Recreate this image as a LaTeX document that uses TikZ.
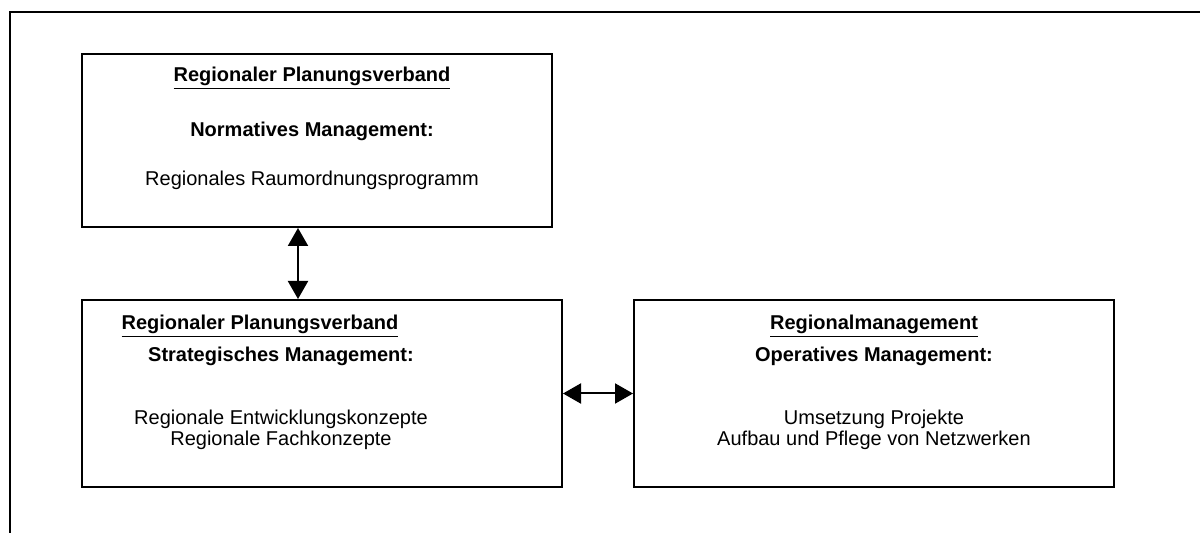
\documentclass[tikz,border=0pt]{standalone}
\usepackage{fontspec}
\setmainfont{Liberation Sans}
\usepackage{tikz}
\usetikzlibrary{
  positioning,
  calc,
  arrows.meta,
  }

\begin{document}
\begin{tikzpicture}[x=0.5pt, y=-0.5pt,
    every node/.style={font=\fontsize{10}{10.5}\selectfont, inner sep=0pt},
    kasten/.style={draw, line width=1pt, minimum width=#1, minimum height=93.5pt},
    kopf/.style={font=\fontsize{10}{10.5}\selectfont\bfseries},
    pfeil/.style={line width=1pt, {Triangle[length=9pt,width=10pt]}-{Triangle[length=9pt,width=10pt]}}]
                \useasboundingbox (0,0) rectangle (1200,533);
                \draw[line width=1pt] (10,533) -- (10,12) -- (1200,12);

                \node[kasten=235pt, minimum height=86.5pt] (b1) at (317,140.5) {};
                \node[kasten=240pt] (b2) at (322,393.5) {};
                \node[kasten=240pt] (b3) at (874,393.5) {};

                \node[kopf] (t1) at (312,78) {\underline{Regionaler Planungsverband}};
                \node[kopf] (t2) at (312,131) {Normatives Management:};
                \node (t3) at (312,180) {Regionales Raumordnungsprogramm};

                \node[kopf] (t4) at (260,326) {\underline{Regionaler Planungsverband}};
                \node[kopf] (t5) at (281,356) {Strategisches Management:};
                \node[align=center] (t6) at (281,430) {Regionale Entwicklungskonzepte\\Regionale Fachkonzepte};

                \node[kopf] (t7) at (874,326) {\underline{Regionalmanagement}};
                \node[kopf] (t8) at (874,356) {Operatives Management:};
                \node[align=center] (t9) at (874,430) {Umsetzung Projekte\\Aufbau und Pflege von Netzwerken};

                \coordinate (vx) at (298,0);
                \draw[pfeil] (b1.south -| vx) -- (b2.north -| vx);
                \draw[pfeil] (b2.east) -- (b3.west);
            \end{tikzpicture}
\end{document}
